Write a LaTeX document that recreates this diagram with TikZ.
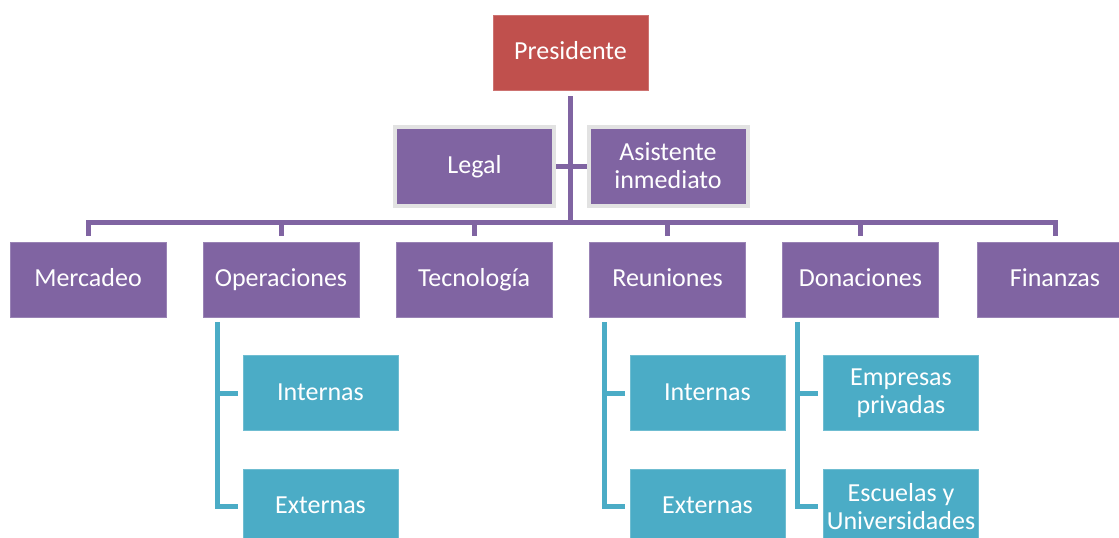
\documentclass[tikz,border=0pt]{standalone}
\usepackage{fontspec}
\setmainfont{Carlito}
\definecolor{purp}{HTML}{8064A2}
\definecolor{redb}{HTML}{C0504D}
\definecolor{cyanb}{HTML}{4BACC6}
\definecolor{graybd}{HTML}{E2E2E2}
\begin{document}
\begin{tikzpicture}[x=1pt,y=-1pt,
  box/.style={rectangle, minimum width=155pt, minimum height=75pt, inner sep=0pt,
    text=white, font=\fontsize{26}{28}\selectfont, align=center},
  one/.style={text height=17pt, text depth=3pt},
  redbox/.style={box, fill=redb, draw=redb!80!white, line width=0.6pt},
  purpbox/.style={box, fill=purp, draw=purp!80!white, line width=0.6pt},
  staffbox/.style={box, fill=purp, draw=graybd, line width=4pt, minimum width=159pt, minimum height=79pt},
  cyanbox/.style={box, fill=cyanb, draw=cyanb!80!white, line width=0.6pt},
  pline/.style={draw=purp, line width=5pt},
  cline/.style={draw=cyanb, line width=5pt}]
\clip (0,0) rectangle (1119,538);
\fill[white] (0,0) rectangle (1119,538);

\node[redbox, one] (pres) at (570.5,52.5) {Presidente};
\node[staffbox, one] (legal) at (474.5,166) {Legal};
\node[staffbox] (asis) at (668,166) {Asistente\\inmediato};

\node[purpbox, one, minimum width=156pt] (mer) at (88,279.5) {Mercadeo};
\node[purpbox, one, minimum width=156pt] (ope) at (281,279.5) {Operaciones};
\node[purpbox, one, minimum width=156pt] (tec) at (474,279.5) {Tecnología};
\node[purpbox, one, minimum width=156pt] (reu) at (667.5,279.5) {Reuniones};
\node[purpbox, one, minimum width=156pt] (don) at (860.5,279.5) {Donaciones};
\node[purpbox, one, minimum width=156pt] (fin) at (1055,279.5) {Finanzas};

\node[cyanbox, one] (opi) at (320.5,393) {Internas};
\node[cyanbox, one] (ope2) at (320.5,506.5) {Externas};
\node[cyanbox, one] (rei) at (707.5,393) {Internas};
\node[cyanbox, one] (ree) at (707.5,506.5) {Externas};
\node[cyanbox] (dem) at (901,393) {Empresas\\privadas};
\node[cyanbox] (des) at (901,506.5) {Escuelas y\\Universidades};

\coordinate (bus) at (0,222);

% president trunk
\draw[pline] ([yshift=-6pt]pres.south) -- (pres.south |- bus);
% staff connector
\draw[pline] (legal.east) -- (asis.east -| asis.west);
% bus
\draw[pline] ([yshift=6pt]mer.north) -- (mer.north |- bus) -- (fin.north |- bus) -- ([yshift=6pt]fin.north);
\foreach \n in {ope,tec,reu,don}
  \draw[pline] ([yshift=6pt]\n.north) -- (\n.north |- bus);

% sub connectors
\foreach \p/\a/\b in {ope/opi/ope2, reu/rei/ree, don/dem/des}{
  \draw[cline, shorten >=5pt] ([xshift=15pt,yshift=-5pt]\p.south west) |- (\a.west);
  \draw[cline, shorten >=5pt] ([xshift=15pt,yshift=-5pt]\p.south west) |- (\b.west);
}
\end{tikzpicture}
\end{document}
